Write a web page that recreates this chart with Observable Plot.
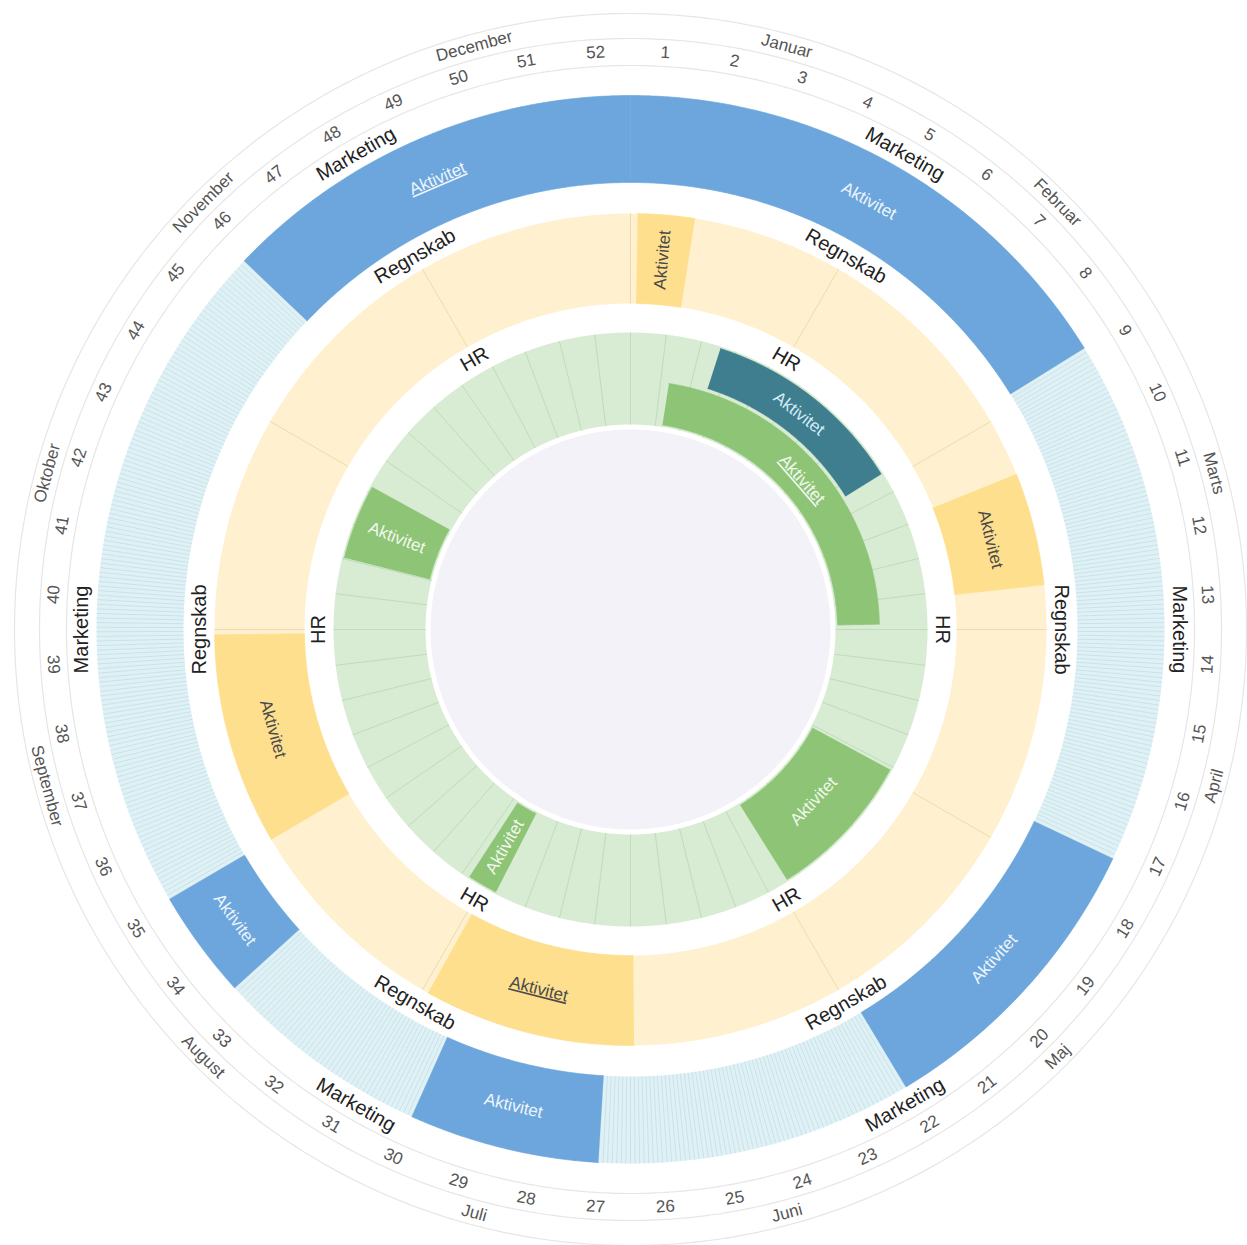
<!DOCTYPE html>
<html>
<head>
<meta charset="utf-8">
<script src="https://cdn.jsdelivr.net/npm/d3@7"></script>
<script src="https://cdn.jsdelivr.net/npm/@observablehq/plot@0.6"></script>
<style>
  html, body { margin: 0; padding: 0; background: #ffffff; }
  #chart svg { display: block; }
</style>
</head>
<body>
<div id="chart"></div>
<script>
// ---------------- DATA ----------------
const months = ["Januar", "Februar", "Marts", "April", "Maj", "Juni", "Juli", "August", "September", "Oktober", "November", "December"];
const weeks = [1, 2, 3, 4, 5, 6, 7, 8, 9, 10, 11, 12, 13, 14, 15, 16, 17, 18, 19, 20, 21, 22, 23, 24, 25, 26,
               27, 28, 29, 30, 31, 32, 33, 34, 35, 36, 37, 38, 39, 40, 41, 42, 43, 44, 45, 46, 47, 48, 49, 50, 51, 52];
const departments = ["HR", "Regnskab", "Marketing"];

// activities per department (start / end date, inclusive, "MM-DD")
const marketingLabel  = ["Aktivitet", "Aktivitet", "Aktivitet", "Aktivitet", "Aktivitet"];
const marketingStart  = ["01-01", "04-28", "07-06", "08-20", "11-15"];
const marketingEnd    = ["02-28", "05-31", "07-26", "08-31", "12-31"];
const marketingLinked = [false, false, false, false, true];

const regnskabLabel  = ["Aktivitet", "Aktivitet", "Aktivitet", "Aktivitet"];
const regnskabStart  = ["01-02", "03-11", "07-02", "09-01"];
const regnskabEnd    = ["01-09", "03-26", "07-31", "09-30"];
const regnskabLinked = [false, false, true, false];

const hrLabel  = ["Aktivitet", "Aktivitet", "Aktivitet", "Aktivitet", "Aktivitet"];
const hrStart  = ["01-10", "01-19", "05-01", "07-30", "10-16"];
const hrEnd    = ["03-31", "02-28", "05-30", "08-04", "10-30"];
const hrLinked = [true, false, false, false, false];
const hrKind   = ["Standard", "Fremhævet", "Standard", "Standard", "Standard"];

// ---------------- LAYOUT ----------------
const W = 1247, H = 1245, CX = 630, CY = 629;
const TAU = 2 * Math.PI;
const YEAR = 2023;
const ringRadius = {HR: [205, 297], Regnskab: [326, 416], Marketing: [447, 534]};
const ringPad = {HR: 2, Regnskab: 0, Marketing: 0};
const ringFill = {HR: "#d8ebd3", Regnskab: "#fff1cf", Marketing: "#e0f1f5"};
const dividerStroke = {HR: "#c1dbbb", Regnskab: "#ecdcb0", Marketing: "#c4e1e9"};
const activityFill = {Marketing: "#6ca6dc", Regnskab: "#fedf8e", HR: "#8dc475", "HR:Fremhævet": "#3e7e8f"};
const activityInk = {Marketing: "#eef5fc", Regnskab: "#4a4a4a", HR: "#f1f8ed", "HR:Fremhævet": "#d4edf7"};
const labelAngles = [30, 90, 150, 210, 270, 330];
const labelRadius = {HR: 312, Regnskab: 431, Marketing: 549};
const circleRadii = [564, 591, 616];
const weekRadius = 578, monthRadius = 604;
const centerRadius = 200;

// ---------------- SCALES ----------------
const dayAngle = d3.scaleLinear([0, 365], [0, TAU]);
const weekAngle = d3.scaleBand(weeks, [0, TAU]);
const monthAngle = d3.scaleBand(months, [0, TAU]);
const yearStart = new Date(YEAR, 0, 1);
const dayOf = s => d3.timeDay.count(yearStart, new Date(YEAR, +s.slice(0, 2) - 1, +s.slice(3, 5)));

const deg = a => a * 180 / Math.PI;
function tangential(d) {
  d = ((d % 360) + 360) % 360;
  if (d > 90 && d < 270) return d - 180;
  return d >= 270 ? d - 360 : d;
}
function radialRot(d) {
  d = ((d % 360) + 360) % 360;
  return d < 180 ? d - 90 : d - 270;
}
const polar = (r, a) => ({x: r * Math.sin(a), y: -r * Math.cos(a)});

// ---------------- BUILD TABLES ----------------
const background = [], activityShapes = [];
let sid = 0;
function addArc(target, a0, a1, r0, r1, fill) {
  const id = sid++;
  const n = Math.max(2, Math.ceil((a1 - a0) / (TAU / 1440)));
  for (let i = 0; i <= n; i++) { const a = a0 + (a1 - a0) * i / n; target.push({id, fill, ...polar(r1, a)}); }
  for (let i = n; i >= 0; i--) { const a = a0 + (a1 - a0) * i / n; target.push({id, fill, ...polar(r0, a)}); }
}

// ring backgrounds and center
addArc(background, 0, TAU, 0, centerRadius, "#f3f2f8");
for (const dep of departments) addArc(background, 0, TAU, ringRadius[dep][0], ringRadius[dep][1], ringFill[dep]);

// dividers
const dividers = [];
weeks.forEach(w => {
  const a = weekAngle(w);
  const [r0, r1] = ringRadius.HR;
  const p0 = polar(r0, a), p1 = polar(r1, a);
  dividers.push({x1: p0.x, y1: p0.y, x2: p1.x, y2: p1.y, stroke: dividerStroke.HR, w: 1});
});
months.forEach(m => {
  const a = monthAngle(m);
  const [r0, r1] = ringRadius.Regnskab;
  const p0 = polar(r0, a), p1 = polar(r1, a);
  dividers.push({x1: p0.x, y1: p0.y, x2: p1.x, y2: p1.y, stroke: dividerStroke.Regnskab, w: 1});
});
for (let k = 0; k < 730; k++) {
  const a = dayAngle(k / 2);
  const [r0, r1] = ringRadius.Marketing;
  const p0 = polar(r0, a), p1 = polar(r1, a);
  dividers.push({x1: p0.x, y1: p0.y, x2: p1.x, y2: p1.y, stroke: dividerStroke.Marketing, w: 0.9});
}

// activities
function makeActivities(dep, labels, starts, ends, linked, kinds) {
  const acts = labels.map((label, i) => ({
    dep, label, linked: linked[i],
    key: kinds && kinds[i] !== "Standard" ? dep + ":" + kinds[i] : dep,
    a0: dayAngle(dayOf(starts[i])), a1: dayAngle(dayOf(ends[i]) + 1)
  }));
  // lane assignment for overlapping activities
  const sorted = acts.slice().sort((a, b) => a.a0 - b.a0);
  const laneEnds = [];
  for (const a of sorted) {
    let l = laneEnds.findIndex(e => e <= a.a0 + 1e-9);
    if (l < 0) { l = laneEnds.length; laneEnds.push(0); }
    laneEnds[l] = a.a1; a.lane = l;
  }
  for (const a of acts) {
    const ov = acts.filter(b => b.a0 < a.a1 - 1e-9 && b.a1 > a.a0 + 1e-9);
    a.lanes = 1 + d3.max(ov, b => b.lane);
  }
  return acts;
}
const activities = [
  ...makeActivities("Marketing", marketingLabel, marketingStart, marketingEnd, marketingLinked),
  ...makeActivities("Regnskab", regnskabLabel, regnskabStart, regnskabEnd, regnskabLinked),
  ...makeActivities("HR", hrLabel, hrStart, hrEnd, hrLinked, hrKind)
];

const activityLabels = [];
for (const act of activities) {
  const [R0, R1] = ringRadius[act.dep];
  const pad = ringPad[act.dep];
  const inner = R0 + pad, outer = R1 - pad;
  const gap = 4;
  const laneH = (outer - inner - gap * (act.lanes - 1)) / act.lanes;
  const r0 = inner + act.lane * (laneH + gap), r1 = r0 + laneH;
  addArc(activityShapes, act.a0, act.a1, r0, r1, activityFill[act.key]);
  const am = (act.a0 + act.a1) / 2, rm = (r0 + r1) / 2;
  const arcLen = (act.a1 - act.a0) * rm;
  const rot = arcLen < 72 ? radialRot(deg(am)) : tangential(deg(am));
  activityLabels.push({...polar(rm, am), text: act.label, rotate: rot, fill: activityInk[act.key], linked: act.linked});
}

// thin circles
const circles = [];
circleRadii.forEach((r, i) => {
  for (let k = 0; k <= 720; k++) circles.push({id: i, ...polar(r, TAU * k / 720)});
});

// texts
const weekLabels = weeks.map(w => {
  const a = weekAngle(w) + weekAngle.bandwidth() / 2;
  return {...polar(weekRadius, a), text: String(w), rotate: tangential(deg(a))};
});
const monthLabels = months.map(m => {
  const a = monthAngle(m) + monthAngle.bandwidth() / 2;
  return {...polar(monthRadius, a), text: m, rotate: tangential(deg(a))};
});
const deptLabels = departments.flatMap(dep => labelAngles.map(d => {
  const a = d * Math.PI / 180;
  return {...polar(labelRadius[dep], a), text: dep, rotate: tangential(d)};
}));

// ---------------- PLOT ----------------
const plot = Plot.plot({
  width: W, height: H,
  margin: 0,
  x: {domain: [-CX, W - CX], range: [0, W], axis: null},
  y: {domain: [-CY, H - CY], range: [0, H], axis: null},
  color: {type: "identity"},
  style: {fontFamily: "'Liberation Sans', Arial, Helvetica, sans-serif", background: "#ffffff"},
  marks: [
    Plot.line(background, {x: "x", y: "y", z: "id", fill: "fill", stroke: "none"}),
    Plot.link(dividers, {x1: "x1", y1: "y1", x2: "x2", y2: "y2", stroke: "stroke", strokeWidth: "w"}),
    Plot.line(activityShapes, {x: "x", y: "y", z: "id", fill: "fill", stroke: "fill", strokeWidth: 0.6, strokeLinejoin: "miter"}),
    Plot.line(circles, {x: "x", y: "y", z: "id", stroke: "#e6e6e6", strokeWidth: 1.2}),
    Plot.text(weekLabels, {x: "x", y: "y", text: "text", rotate: "rotate", fontSize: 17, fill: "#555"}),
    Plot.text(monthLabels, {x: "x", y: "y", text: "text", rotate: "rotate", fontSize: 17, fill: "#555"}),
    Plot.text(deptLabels, {x: "x", y: "y", text: "text", rotate: "rotate", fontSize: 20, fill: "#222"}),
    Plot.text(activityLabels.filter(d => !d.linked), {x: "x", y: "y", text: "text", rotate: "rotate", fontSize: 17, fill: "fill"}),
    Plot.text(activityLabels.filter(d => d.linked), {x: "x", y: "y", text: "text", rotate: "rotate", fontSize: 17, fill: "fill", ariaDescription: "linked"})
  ]
});

let linkedGroups = plot.querySelectorAll('g[aria-description="linked"]');
if (!linkedGroups.length) {
  const g = plot.querySelectorAll('g[aria-label="text"]');
  linkedGroups = [g[g.length - 1]];
}
linkedGroups.forEach(g => g.querySelectorAll("text").forEach(t => t.style.textDecoration = "underline"));

document.getElementById("chart").append(plot);
</script>
</body>
</html>
